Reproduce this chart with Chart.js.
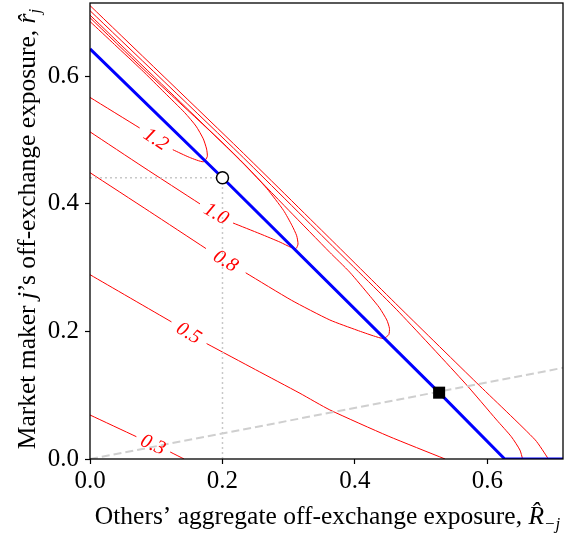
<!DOCTYPE html>
<html>
<head>
<meta charset="utf-8">
<script src="https://cdn.jsdelivr.net/npm/chart.js@4.4.1/dist/chart.umd.min.js"></script>
<style>
  html, body { margin: 0; padding: 0; background: #fff; }
</style>
</head>
<body>
<canvas id="grafico" width="564" height="533"></canvas>
<script>
// eixos
const xTicks = [0, 0.2, 0.4, 0.6];
const yTicks = [0, 0.2, 0.4, 0.6];
const xMax = 0.714;
const yMax = 0.715;

// curva de melhor resposta (azul)
const brR = [0, 0.2, 0.527, 0.626, 0.714];
const brr = [0.643, 0.441, 0.104, 0, 0];

// pontos marcados
const circR = [0.2];
const circr = [0.441];
const sqR = [0.527];
const sqr = [0.104];

// linha tracejada r = 0.2 R
const dashR = [0, 0.714];
const dashr = [0, 0.143];

// curvas de nivel (null = buraco do rotulo)
const c12R = [0, 0.075, null, 0.125, 0.150, 0.171, 0.177, 0.176, 0.171, 0.160, 0.143, 0.113, 0.078, 0.037, 0];
const c12r = [0.567, 0.519, null, 0.485, 0.473, 0.466, 0.474, 0.486, 0.502, 0.522, 0.543, 0.574, 0.610, 0.650, 0.686];

const c10R = [0, 0.08, 0.166, null, 0.216, 0.257, 0.287, 0.303, 0.311, 0.314, 0.312, 0.305, 0.292, 0.267, 0.237, 0.206, 0.166, 0.08, 0];
const c10r = [0.513, 0.458, 0.400, null, 0.370, 0.353, 0.340, 0.332, 0.330, 0.337, 0.350, 0.366, 0.390, 0.424, 0.458, 0.490, 0.529, 0.612, 0.692];

const c08R = [0, 0.09, 0.175, null, 0.235, 0.304, 0.362, 0.403, 0.428, 0.443, 0.451, 0.452, 0.448, 0.437, 0.423, 0.392, 0.362, 0.300, 0.226, 0.150, 0];
const c08r = [0.449, 0.388, 0.330, null, 0.292, 0.249, 0.218, 0.202, 0.193, 0.189, 0.195, 0.205, 0.218, 0.237, 0.255, 0.293, 0.324, 0.390, 0.469, 0.546, 0.696];

const c05loR = [0, 0.123, null, 0.176, 0.25, 0.317, 0.362, 0.45, 0.536];
const c05lor = [0.289, 0.215, null, 0.181, 0.140, 0.103, 0.077, 0.036, 0];
const c05upR = [0, 0.226, 0.362, 0.463, 0.566, 0.614, 0.636, 0.649, 0.653];
const c05upr = [0.703, 0.478, 0.338, 0.234, 0.119, 0.061, 0.035, 0.014, 0];

const c03loR = [0, 0.07, null, 0.121, 0.142];
const c03lor = [0.069, 0.035, null, 0.011, 0];
const c03upR = [0, 0.226, 0.362, 0.471, 0.584, 0.672, 0.692];
const c03upr = [0.711, 0.485, 0.346, 0.234, 0.119, 0.030, 0];

const serif = '"Liberation Serif", "Times New Roman", serif';

function pts(R, r) {
  return R.map((v, i) => v === null ? { x: null, y: null } : { x: v, y: r[i] });
}

function contorno(R, r, rotulo) {
  return {
    data: pts(R, r), rotulo: rotulo,
    showLine: true, borderColor: '#ff0000', borderWidth: 1, pointRadius: 0,
    tension: 0.2, spanGaps: false, clip: 0
  };
}

// rotulos inline das curvas + moldura + titulos dos eixos
const extras = {
  id: 'extras',
  afterDatasetsDraw(chart) {
    const ctx = chart.ctx, xs = chart.scales.x, ys = chart.scales.y;
    chart.data.datasets.forEach(ds => {
      if (!ds.rotulo) return;
      const i = ds.data.findIndex(p => p.x === null);
      const a = ds.data[i - 1], b = ds.data[i + 1];
      const ax = xs.getPixelForValue(a.x), ay = ys.getPixelForValue(a.y);
      const bx = xs.getPixelForValue(b.x), by = ys.getPixelForValue(b.y);
      ctx.save();
      ctx.translate((ax + bx) / 2, (ay + by) / 2);
      ctx.rotate(Math.atan2(by - ay, bx - ax));
      ctx.font = 'italic 20px ' + serif;
      ctx.fillStyle = '#ff0000';
      ctx.textAlign = 'center';
      ctx.textBaseline = 'middle';
      ctx.fillText(ds.rotulo, 0, 1);
      ctx.restore();
    });
  },
  afterDraw(chart) {
    const ctx = chart.ctx, a = chart.chartArea;
    ctx.save();
    ctx.strokeStyle = '#000';
    ctx.lineWidth = 1.3;
    ctx.strokeRect(a.left, a.top, a.right - a.left, a.bottom - a.top);

    // titulo do eixo x
    const xt = [
      { t: 'Others\u2019 aggregate off-exchange exposure, ', f: '25.5px ' + serif, dy: 0 },
      { t: 'R\u0302', f: 'italic 25.5px ' + serif, dy: 0 },
      { t: '\u2212j', f: 'italic 17px ' + serif, dy: 5 }
    ];
    escreve(ctx, xt, (a.left + a.right) / 2 + 1, 524, 0);

    // titulo do eixo y
    const yt = [
      { t: 'Market maker ', f: '25.5px ' + serif, dy: 0 },
      { t: 'j', f: 'italic 25.5px ' + serif, dy: 0 },
      { t: '\u2019s off-exchange exposure, ', f: '25.5px ' + serif, dy: 0 },
      { t: 'r\u0302', f: 'italic 25.5px ' + serif, dy: 0 },
      { t: 'j', f: 'italic 17px ' + serif, dy: 5 }
    ];
    escreve(ctx, yt, 35, 229, -Math.PI / 2);
    ctx.restore();
  }
};

function escreve(ctx, partes, cx, cy, ang) {
  let w = 0;
  partes.forEach(p => { ctx.font = p.f; p.w = ctx.measureText(p.t).width; w += p.w; });
  ctx.save();
  ctx.translate(cx, cy);
  ctx.rotate(ang);
  ctx.fillStyle = '#000';
  ctx.textBaseline = 'alphabetic';
  ctx.textAlign = 'left';
  let x = -w / 2;
  partes.forEach(p => { ctx.font = p.f; ctx.fillText(p.t, x, p.dy); x += p.w; });
  ctx.restore();
}

function semPadding(s) {
  s.paddingLeft = 0; s.paddingRight = 0; s.paddingTop = 0; s.paddingBottom = 0;
}

const eixo = (ticks, max, pad) => ({
  type: 'linear', min: 0, max: max,
  afterBuildTicks: s => { s.ticks = ticks.map(v => ({ value: v })); },
  ticks: {
    callback: v => v.toFixed(1),
    font: { family: serif, size: 25 }, color: '#000', padding: pad, maxRotation: 0
  },
  grid: { drawOnChartArea: false, drawTicks: true, tickLength: 5, color: '#000', tickWidth: 1.2 },
  border: { display: false }
});

new Chart(document.getElementById('grafico'), {
  type: 'scatter',
  data: {
    datasets: [
      { data: pts(circR, circr), pointRadius: 6, pointBackgroundColor: '#fff', pointBorderColor: '#000', pointBorderWidth: 1.5 },
      { data: pts(sqR, sqr), pointStyle: 'rect', pointRadius: 8.5, pointBackgroundColor: '#000', pointBorderColor: '#000', pointBorderWidth: 0 },
      { data: pts(brR, brr), showLine: true, borderColor: '#0000ff', borderWidth: 3, pointRadius: 0, clip: 0 },
      { data: pts(dashR, dashr), showLine: true, borderColor: '#cfcfcf', borderWidth: 2, borderDash: [8, 4], pointRadius: 0, clip: 0 },
      { data: pts([0, 0.2], [0.441, 0.441]), showLine: true, borderColor: '#c8c8c8', borderWidth: 1.5, borderDash: [2, 3], pointRadius: 0, clip: 0 },
      { data: pts([0.2, 0.2], [0, 0.441]), showLine: true, borderColor: '#c8c8c8', borderWidth: 1.5, borderDash: [2, 3], pointRadius: 0, clip: 0 },
      contorno(c12R, c12r, '1.2'),
      contorno(c10R, c10r, '1.0'),
      contorno(c08R, c08r, '0.8'),
      contorno(c05loR, c05lor, '0.5'),
      contorno(c05upR, c05upr),
      contorno(c03loR, c03lor, '0.3'),
      contorno(c03upR, c03upr)
    ]
  },
  options: {
    responsive: false,
    animation: false,
    events: [],
    layout: { autoPadding: false, padding: { left: 0, top: 3, right: 1, bottom: 0 } },
    elements: { line: { capBezierPoints: false } },
    plugins: { legend: { display: false }, tooltip: { enabled: false } },
    scales: {
      x: Object.assign(eixo(xTicks, xMax, 2), { afterFit: s => { s.height = 74; semPadding(s); } }),
      y: Object.assign(eixo(yTicks, yMax, 6), { afterFit: s => { s.width = 90; semPadding(s); } })
    }
  },
  plugins: [extras]
});
</script>
</body>
</html>
